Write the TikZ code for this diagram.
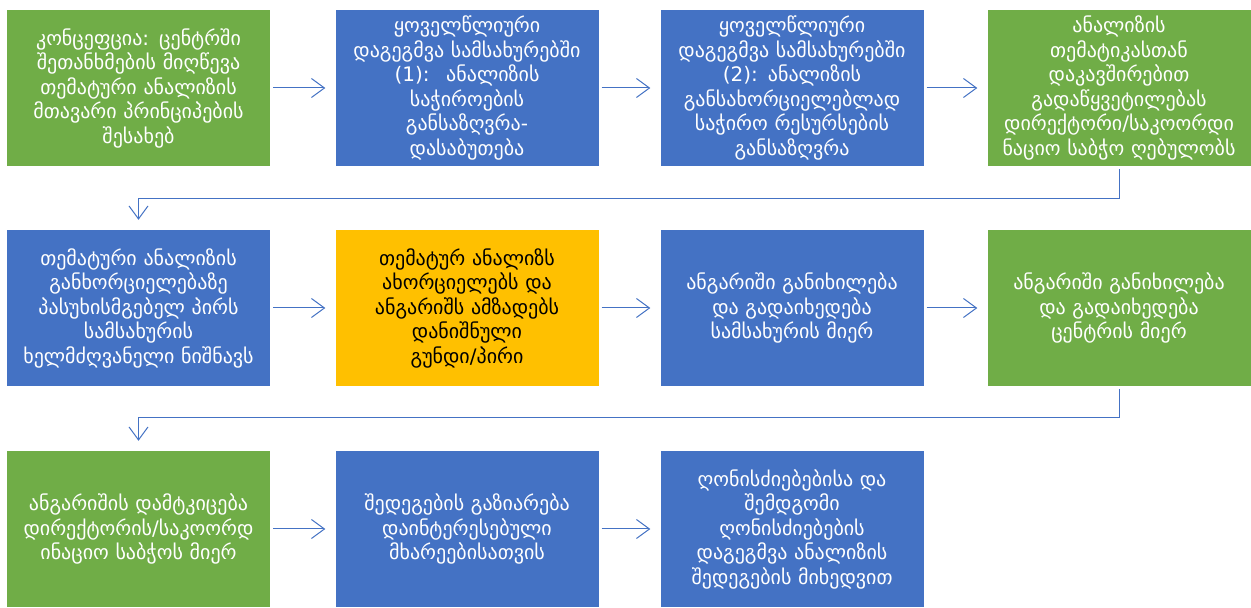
\documentclass[tikz,border=0pt]{standalone}
\usepackage{fontspec}
\setmainfont{DejaVu Sans}
\usetikzlibrary{arrows.meta}
\definecolor{bxgreen}{HTML}{70AD47}
\definecolor{bxblue}{HTML}{4472C4}
\definecolor{bxyellow}{HTML}{FFC000}
\definecolor{lnblue}{HTML}{4472C4}
\begin{document}
\begin{tikzpicture}[x=1pt,y=1pt,
  box/.style={draw=none, minimum width=263pt, minimum height=156pt, text width=258pt,
    align=center, inner sep=0pt, font=\fontsize{20}{24.5}\selectfont, text=white},
  gbox/.style={box, fill=bxgreen},
  bbox/.style={box, fill=bxblue},
  ybox/.style={box, fill=bxyellow, text=black},
  conn/.style={draw=lnblue, line width=1pt, shorten <=3pt, shorten >=10pt,
    -{Straight Barb[length=13pt,width=19pt,line width=1pt]}}
]
\useasboundingbox (0,0) rectangle (1251,608);
\fill[white] (0,0) rectangle (1251,608);
% row 1
\node[gbox] (a1) at (138.5,520) {კონცეფცია: ცენტრში\\შეთანხმების მიღწევა\\თემატური ანალიზის\\მთავარი პრინციპების\\შესახებ};
\node[bbox] (a2) at (467,520) {ყოველწლიური\\დაგეგმვა სამსახურებში\\(1):~ ანალიზის\\საჭიროების\\განსაზღვრა-\\დასაბუთება};
\node[bbox] (a3) at (792,520) {ყოველწლიური\\დაგეგმვა სამსახურებში\\(2): ანალიზის\\განსახორციელებლად\\საჭირო რესურსების\\განსაზღვრა};
\node[gbox] (a4) at (1119,520) {ანალიზის\\თემატიკასთან\\დაკავშირებით\\გადაწყვეტილებას\\დირექტორი/საკოორდი\\ნაციო საბჭო ღებულობს};
% row 2
\node[bbox] (b1) at (138.5,300) {თემატური ანალიზის\\განხორციელებაზე\\პასუხისმგებელ პირს\\სამსახურის\\ხელმძღვანელი ნიშნავს};
\node[ybox] (b2) at (467,300) {თემატურ ანალიზს\\ახორციელებს და\\ანგარიშს ამზადებს\\დანიშნული\\გუნდი/პირი};
\node[bbox] (b3) at (792,300) {ანგარიში განიხილება\\და გადაიხედება\\სამსახურის მიერ};
\node[gbox] (b4) at (1119,300) {ანგარიში განიხილება\\და გადაიხედება\\ცენტრის მიერ};
% row 3
\node[gbox] (c1) at (138.5,79) {ანგარიშის დამტკიცება\\დირექტორის/საკოორდ\\ინაციო საბჭოს მიერ};
\node[bbox] (c2) at (467,79) {შედეგების გაზიარება\\დაინტერესებული\\მხარეებისათვის};
\node[bbox] (c3) at (792,79) {ღონისძიებებისა და\\შემდგომი\\ღონისძიებების\\დაგეგმვა ანალიზის\\შედეგების მიხედვით};
% connectors
\draw[conn] (a1) -- (a2);
\draw[conn] (a2) -- (a3);
\draw[conn] (a3) -- (a4);
\coordinate (e1) at (138.5,409);
\draw[conn] (a4.south) |- (e1) -- (b1.north);
\draw[conn] (b1) -- (b2);
\draw[conn] (b2) -- (b3);
\draw[conn] (b3) -- (b4);
\coordinate (e2) at (138.5,190);
\draw[conn] (b4.south) |- (e2) -- (c1.north);
\draw[conn] (c1) -- (c2);
\draw[conn] (c2) -- (c3);
\end{tikzpicture}
\end{document}
